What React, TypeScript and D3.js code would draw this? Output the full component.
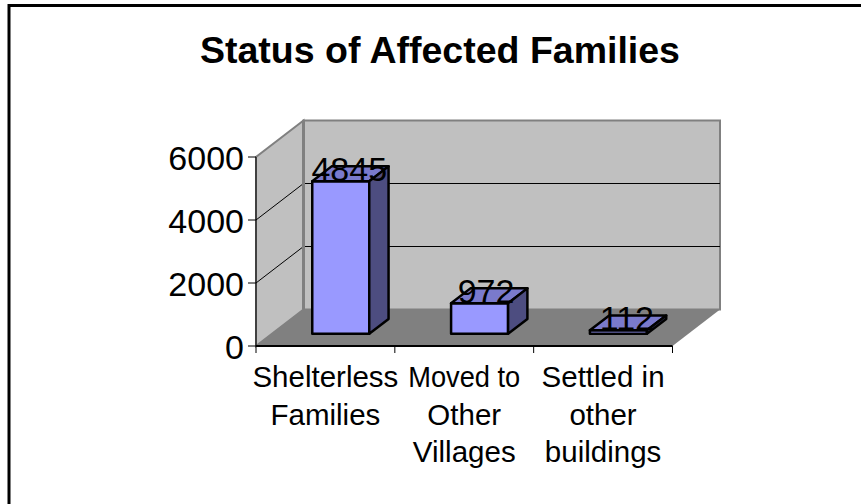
import React from 'react';
import * as d3 from 'd3';

const categories = [
  ['Shelterless', 'Families'],
  ['Moved to', 'Other', 'Villages'],
  ['Settled in', 'other', 'buildings'],
];
const values = [4845, 972, 112];
const yTicks = [0, 2000, 4000, 6000];
const labelNudge = [8.5, 6.5, 8.5];

const W = 861;
const H = 504;
const FONT = '"Liberation Sans", Arial, sans-serif';

// front plane of the 3d box
const x0 = 256;
const x1 = 672.5;
const DX = 47.5;
const DY = -36.5;

const xBand = d3.scaleBand<number>().domain(d3.range(categories.length)).range([x0, x1]);
const y = d3.scaleLinear().domain([0, 6000]).range([346, 157]);

// depth: 0 = front edge, 1 = back wall
const project = (px: number, v: number, depth: number): [number, number] => [
  px + DX * depth,
  y(v) + DY * depth,
];
const poly = (pts: [number, number][]) => d3.line()(pts) + 'Z';

const App = () => {
  const barW = 57;
  const d0 = 1 / 3;
  const d1 = 0.74;
  const barLeft = (i: number) => xBand(i)! + (xBand.bandwidth() - barW) / 2 - 0.5;

  return (
    <svg
      width={W}
      height={H}
      style={{ position: 'absolute', left: 0, top: 0, background: '#fff' }}
      fontFamily={FONT}
    >
      {/* outer frame */}
      <path d="M9,504V5.6H861" fill="none" stroke="#000" strokeWidth={3} />

      <text x={440} y={62.5} textAnchor="middle" fontSize={37.5} fontWeight="bold">
        Status of Affected Families
      </text>

      {/* walls */}
      <path
        d={poly([project(x0, 0, 0), project(x0, 6000, 0), project(x0, 6000, 1), project(x0, 0, 1)])}
        fill="#c0c0c0"
        stroke="#808080"
        strokeWidth={2}
      />
      <path
        d={poly([project(x0, 0, 1), project(x0, 6000, 1), project(x1, 6000, 1), project(x1, 0, 1)])}
        fill="#c0c0c0"
        stroke="#808080"
        strokeWidth={2}
      />
      <path
        d={poly([project(x0, 0, 0), project(x1, 0, 0), project(x1, 0, 1), project(x0, 0, 1)])}
        fill="#808080"
      />

      {/* gridlines */}
      {yTicks.slice(1, 3).map((t) => (
        <path
          key={t}
          d={d3.line()([project(x0, t, 0), project(x0, t, 1), project(x1, t, 1)])!}
          fill="none"
          stroke="#000"
          strokeWidth={1}
        />
      ))}
      <path
        d={d3.line()([project(x0, 0, 1), project(x0, 6000, 1)])!}
        stroke="#808080"
        strokeWidth={3}
      />

      {/* bars */}
      {values.map((v, i) => {
        const left = barLeft(i);
        const right = left + barW;
        const a = project(left, 0, d0);
        const b = project(right, 0, d0);
        const c = project(right, v, d0);
        const e = project(left, v, d0);
        const f = project(left, v, d1);
        const g = project(right, v, d1);
        const h = project(right, 0, d1);
        return (
          <g key={i} stroke="#000" strokeWidth={2.5} strokeLinejoin="round">
            <path d={poly([a, b, c, e])} fill="#9999ff" />
            <path d={poly([e, c, g, f])} fill="#7a7acc" />
            <path d={poly([b, h, g, c])} fill="#4d4d80" />
          </g>
        );
      })}

      {/* value labels */}
      {values.map((v, i) => {
        const [lx, ly] = project(barLeft(i) + barW / 2, v, d0);
        return (
          <text key={i} x={lx + labelNudge[i]} y={ly - 0.5} textAnchor="middle" fontSize={34}>
            {v}
          </text>
        );
      })}

      {/* value axis */}
      <path d={`M${x0},${y(6000)}V${y(0)}`} stroke="#000" fill="none" strokeWidth={1} />
      {yTicks.map((t) => (
        <g key={t}>
          <path d={`M${x0 - 8},${y(t)}H${x0}`} stroke="#000" strokeWidth={1} />
          <text x={x0 - 12} y={y(t) + 13} textAnchor="end" fontSize={34}>
            {t}
          </text>
        </g>
      ))}

      {/* category axis */}
      <path d={`M${x0},${y(0)}H${x1}`} stroke="#000" strokeWidth={2} />
      {d3.range(categories.length + 1).map((i) => {
        const px = x0 + i * xBand.bandwidth();
        return <path key={i} d={`M${px},${y(0)}v7`} stroke="#000" strokeWidth={1} />;
      })}
      {categories.map((lines, i) => (
        <text key={i} textAnchor="middle" fontSize={29.5}>
          {lines.map((l, j) => (
            <tspan
              key={j}
              x={xBand(i)! + xBand.bandwidth() / 2}
              y={387 + j * 37.5}
              textLength={l === 'Moved to' ? 112 : undefined}
              lengthAdjust="spacingAndGlyphs"
            >
              {l}
            </tspan>
          ))}
        </text>
      ))}
    </svg>
  );
};

export default App;
